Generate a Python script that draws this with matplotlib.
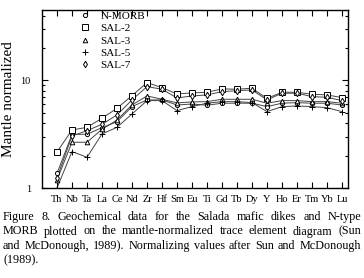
import matplotlib
matplotlib.use("Agg")
import matplotlib.pyplot as plt
from matplotlib.ticker import LogLocator, NullFormatter, FixedLocator

plt.rcParams['font.family'] = ['Liberation Serif', 'DejaVu Serif']

elements = ["Th", "Nb", "Ta", "La", "Ce", "Nd", "Zr", "Hf", "Sm", "Eu",
            "Ti", "Gd", "Tb", "Dy", "Y", "Ho", "Er", "Tm", "Yb", "Lu"]

n_morb = [1.37, 3.14, 3.16, 3.63, 4.13, 5.70, 6.58, 6.58, 5.90, 6.03,
          5.87, 6.13, 6.13, 6.13, 5.70, 6.13, 6.21, 6.13, 6.13, 5.90]
sal_2 = [2.16, 3.46, 3.66, 4.44, 5.50, 7.21, 9.52, 8.55, 7.47, 7.64,
         7.75, 8.32, 8.27, 8.45, 6.79, 7.75, 7.75, 7.43, 7.32, 6.91]
sal_3 = [1.19, 2.66, 2.66, 3.51, 4.28, 5.91, 7.16, 6.67, 6.17, 6.30,
         6.34, 6.67, 6.67, 6.67, 6.13, 6.48, 6.48, 6.34, 6.34, 6.13]
sal_5 = [1.00, 2.18, 1.93, 3.18, 3.66, 4.87, 6.48, 6.48, 5.23, 5.70,
         6.13, 6.34, 6.34, 6.21, 5.12, 5.70, 5.78, 5.70, 5.57, 5.12]
sal_7 = [1.24, 3.04, 3.41, 3.91, 4.77, 6.58, 8.74, 8.27, 6.86, 7.16,
         7.32, 7.85, 8.02, 8.14, 6.58, 7.59, 7.59, 7.06, 6.96, 6.48]

caption = ["Figure 8. Geochemical data for the Salada mafic dikes and N-type",
           "MORB plotted on the mantle-normalized trace element diagram (Sun",
           "and McDonough, 1989). Normalizing values after Sun and McDonough",
           "(1989)."]

fig = plt.figure(figsize=(3.64, 2.78), dpi=100)
ax = fig.add_axes([42/364, 1 - 188/278, 306/364, 178/278])

x = list(range(len(elements)))
series = [("N-MORB", n_morb, "o", 3.0),
          ("SAL-2", sal_2, "s", 4.0),
          ("SAL-3", sal_3, "^", 3.3),
          ("SAL-5", sal_5, "+", 4.5),
          ("SAL-7", sal_7, "d", 3.3)]
handles = []
for name, vals, mk, ms in series:
    ax.plot(x, vals, color="#444444", lw=0.7, zorder=2)
    ax.plot(x, vals, ls="none", marker=mk, ms=ms, mfc="white", mec="black",
            mew=0.7, zorder=3)
    h, = ax.plot([], [], ls="none", marker=mk, ms=ms, mfc="white",
                 mec="black", mew=0.7, label=name)
    handles.append(h)

ax.set_yscale("log")
ax.set_ylim(1, 45)
ax.set_xlim(-1, 19.4)
ax.yaxis.set_major_locator(FixedLocator([1, 10]))
ax.set_yticklabels(["1", "10"], fontsize=7.5)
ax.yaxis.set_minor_locator(LogLocator(base=10, subs=range(2, 10)))
ax.yaxis.set_minor_formatter(NullFormatter())
ax.set_xticks(x)
ax.set_xticklabels(elements, fontsize=7.5)
ax.tick_params(which="both", direction="in", top=True, right=True, width=0.8)
ax.tick_params(which="major", length=4)
ax.tick_params(which="minor", length=2.5)
ax.tick_params(axis="x", pad=5)
ax.tick_params(axis="y", pad=8)
for s in ax.spines.values():
    s.set_linewidth(1.0)

ax.set_ylabel("Mantle normalized", fontsize=11, labelpad=4)

ax.legend(handles=handles, loc="upper left", bbox_to_anchor=(0.10, 1.03),
          frameon=False, fontsize=8, handlelength=1.0, handletextpad=0.9,
          labelspacing=0.22, borderaxespad=0.2)

# justified caption, word by word
left, right = 3, 361
fs = 8.7
fig.canvas.draw()
renderer = fig.canvas.get_renderer()
for i, line in enumerate(caption):
    y = 1 - (217 + i*14.5)/278
    words = line.split(" ")
    if i == len(caption) - 1:
        fig.text(left/364, y, line, fontsize=fs, va="center", ha="left")
        continue
    texts = [fig.text(0, y, w, fontsize=fs, va="center", ha="left") for w in words]
    widths = [t.get_window_extent(renderer).width for t in texts]
    gap = (right - left - sum(widths)) / (len(words) - 1)
    pos = left
    for t, w in zip(texts, widths):
        t.set_x(pos/364)
        pos += w + gap

fig.savefig("out.png", dpi=100)
